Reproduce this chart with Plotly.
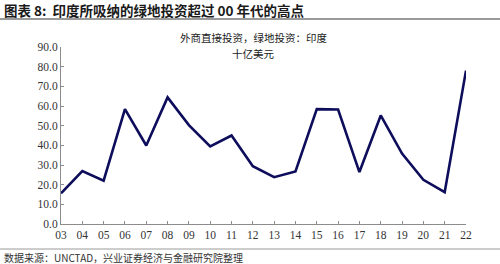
import plotly.graph_objects as go

years = ["03","04","05","06","07","08","09","10","11","12","13","14","15","16","17","18","19","20","21","22"]
values = [15.6, 26.9, 22.0, 58.4, 39.9, 64.4, 50.3, 39.5, 45.0, 29.4, 23.8, 26.7, 58.4, 58.2, 26.4, 55.2, 35.8, 22.5, 16.2, 78.0]
y_ticks = [0, 10, 20, 30, 40, 50, 60, 70, 80, 90]
y_tick_labels = [f"{v:.1f}" for v in y_ticks]

title_text = "<b>图表 8:  印度所吸纳的绿地投资超过 00 年代的高点</b>"
series_label_1 = "外商直接投资，绿地投资：印度"
series_label_2 = "十亿美元"
source_text = "数据来源：UNCTAD，兴业证券经济与金融研究院整理"

W, H = 500, 264
l, r, t, b = 61, 34, 47, 40
pw, ph = W - l - r, H - t - b
def px(x): return (x - l) / pw
def py(y): return (H - b - y) / ph

fig = go.Figure()
fig.add_trace(go.Scatter(
    x=list(range(len(years))), y=values, mode="lines",
    line=dict(color="#0d0d5c", width=2.6), hoverinfo="skip", showlegend=False,
))

axis_font = dict(family="Liberation Serif, Times New Roman, serif", size=11.5, color="#333333")
cjk = "Noto Sans CJK SC, sans-serif"

fig.update_layout(
    width=W, height=H,
    margin=dict(l=l, r=r, t=t, b=b),
    paper_bgcolor="white", plot_bgcolor="white",
    xaxis=dict(
        range=[0, len(years) - 1], tickmode="array",
        tickvals=list(range(len(years))), ticktext=years,
        showgrid=False, zeroline=False, showline=True, linecolor="#8c8c8c", linewidth=1,
        ticks="inside", ticklen=3, tickcolor="#8c8c8c", tickfont=axis_font,
    ),
    yaxis=dict(
        range=[0, 90], tickmode="array", tickvals=y_ticks, ticktext=y_tick_labels,
        showgrid=False, zeroline=False, showline=True, linecolor="#8c8c8c", linewidth=1,
        ticks="inside", ticklen=3, tickcolor="#8c8c8c", tickfont=axis_font,
    ),
    font=dict(family=cjk),
    annotations=[
        dict(text=title_text, x=px(2), y=py(10), xref="paper", yref="paper", xanchor="left", yanchor="middle",
             showarrow=False, font=dict(family=cjk, size=13.5, color="#1a1a1a")),
        dict(text=series_label_1, x=px(253), y=py(38), xref="paper", yref="paper", xanchor="center",
             yanchor="middle", showarrow=False, borderpad=0, font=dict(family=cjk, size=10.5, color="#1a1a1a")),
        dict(text=series_label_2, x=px(253), y=py(54), xref="paper", yref="paper", xanchor="center",
             yanchor="middle", showarrow=False, borderpad=0, font=dict(family=cjk, size=10.5, color="#1a1a1a")),
        dict(text=source_text, x=px(2), y=py(257), xref="paper", yref="paper", xanchor="left",
             yanchor="middle", showarrow=False, font=dict(family=cjk, size=10, color="#333333")),
    ],
    shapes=[
        dict(type="line", xref="paper", yref="paper", x0=px(0), x1=px(500), y0=py(19), y1=py(19),
             line=dict(color="#9a9a9a", width=2)),
        dict(type="line", xref="paper", yref="paper", x0=px(0), x1=px(500), y0=py(249), y1=py(249),
             line=dict(color="#9a9a9a", width=1)),
    ],
)

fig.write_html("out.html")
